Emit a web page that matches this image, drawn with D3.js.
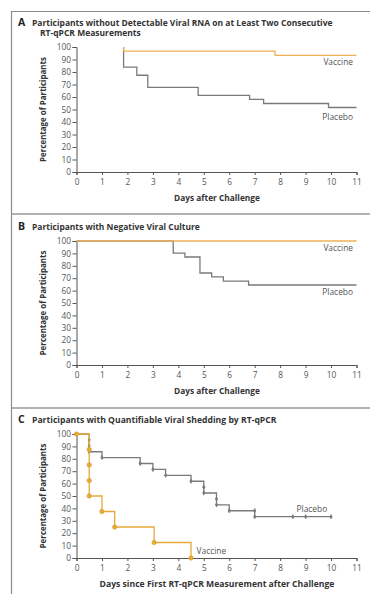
<!DOCTYPE html>
<html>
<head>
<meta charset="utf-8">
<script src="https://cdn.jsdelivr.net/npm/d3@7/dist/d3.min.js"></script>
<style>
body { margin: 0; background: #fff; }
svg { display: block; font-family: "Open Sans", "Noto Sans", sans-serif; }
</style>
</head>
<body>
<div id="chart"></div>
<script>
// ---- data ----
const dayTicks = [0, 1, 2, 3, 4, 5, 6, 7, 8, 9, 10, 11];
const pctTicks = [0, 10, 20, 30, 40, 50, 60, 70, 80, 90, 100];

// panel A: no detectable viral RNA on two consecutive RT-qPCR
const vaccineA = [[1.85, 100], [1.85, 96.7], [7.8, 93.3], [11, 93.3]];
const placeboA = [[1.85, 100], [1.85, 83.9], [2.37, 77.4], [2.8, 67.7], [4.78, 61.3],
                  [6.8, 58.1], [7.35, 54.8], [9.9, 51.6], [11, 51.6]];

// panel B: negative viral culture
const vaccineB = [[0, 100], [11, 100]];
const placeboB = [[0, 100], [3.8, 100], [3.8, 90.3], [4.26, 87.1], [4.85, 74.2],
                  [5.31, 71.0], [5.77, 67.7], [6.76, 64.5], [11, 64.5]];

// panel C: quantifiable viral shedding
const vaccineC = [[0, 100], [0.5, 50], [1.0, 37.5], [1.5, 25], [3.05, 12.5], [4.5, 0]];
const vaccineCMarks = [[0, 100], [0.5, 87.5], [0.5, 75], [0.5, 62.5], [0.5, 50],
                       [1.0, 37.5], [1.5, 25], [3.05, 12.5], [4.5, 0]];
const placeboC = [[0, 100], [0.5, 85.7], [1.0, 81.0], [2.5, 76.2], [3.0, 71.4], [3.5, 66.7],
                  [4.5, 61.9], [5.0, 52.4], [5.5, 42.9], [6.0, 38.1], [7.0, 33.3], [10.0, 33.3]];
const placeboCMarks = [[0.5, 95.2], [0.5, 90.5], [0.5, 85.7], [1.0, 81.0], [2.5, 76.2],
                       [3.0, 71.4], [3.5, 66.7], [4.5, 61.9], [5.0, 57.1], [5.0, 52.4],
                       [5.5, 47.6], [5.5, 42.9], [6.0, 38.1], [7.0, 38.1], [7.0, 33.3],
                       [8.5, 33.3], [9.0, 33.3], [10.0, 33.3]];

const panelLetters = ["A", "B", "C"];
const panelTitles = [
  ["Participants without Detectable Viral RNA on at Least Two Consecutive", "RT-qPCR Measurements"],
  ["Participants with Negative Viral Culture"],
  ["Participants with Quantifiable Viral Shedding by RT-qPCR"]
];
const xTitles = ["Days after Challenge", "Days after Challenge",
                 "Days since First RT-qPCR Measurement after Challenge"];
const yTitle = "Percentage of Participants";

// ---- drawing ----
const W = 370, H = 594;
const orange = "#EDB256", gray = "#7a7a7a", frame = "#8a8a8a";

const svg = d3.select("#chart").append("svg")
  .attr("width", W).attr("height", H);

// outer frame and separators
svg.append("path")
  .attr("d", "M11.5," + H + "V11.5H" + W)
  .attr("fill", "none").attr("stroke", frame).attr("stroke-width", 1.2);
[214, 408].forEach(yy => {
  svg.append("line").attr("x1", 11).attr("x2", W).attr("y1", yy).attr("y2", yy)
    .attr("stroke", "#999").attr("stroke-width", 1.5);
});

// scale a text's font so its natural width hits the target width
function fitFont(sel, width) {
  const base = +sel.attr("font-size");
  const w = sel.node().getComputedTextLength();
  const size = base * width / w;
  sel.attr("font-size", size);
  return size;
}

// layout per panel (pixel frame of each plot)
const layout = [
  {titleY: 25.5, top: 47, bottom: 172, xTitleY: 200.5, xTitleW: 86, titleW: 301},
  {titleY: 229.5, top: 241, bottom: 365, xTitleY: 394, xTitleW: 86, titleW: 168},
  {titleY: 423, top: 434, bottom: 558, xTitleY: 587, xTitleW: 235, titleW: 245}
];

const x = d3.scaleLinear().domain([0, 11]).range([76.5, 356.5]);

function drawPanel(i, series, labels) {
  const L = layout[i];
  const y = d3.scaleLinear().domain([0, 100]).range([L.bottom, L.top]);
  const g = svg.append("g");

  // title
  g.append("text").attr("x", 18).attr("y", L.titleY)
    .attr("font-size", 10.5).attr("font-weight", 700).attr("fill", "#222")
    .text(panelLetters[i]);
  let size = 9;
  panelTitles[i].forEach((t, k) => {
    const tt = g.append("text").attr("x", k === 0 ? 32 : 40).attr("y", L.titleY + k * 10.5)
      .attr("font-size", size).attr("font-weight", 700).attr("fill", "#333")
      .text(t);
    if (k === 0) size = fitFont(tt, L.titleW);
  });

  // axes
  const yAxis = g.append("g").attr("transform", "translate(" + x.range()[0] + ",0)")
    .call(d3.axisLeft(y).tickValues(pctTicks).tickSize(4).tickPadding(1.5));
  const xAxis = g.append("g").attr("transform", "translate(0," + L.bottom + ")")
    .call(d3.axisBottom(x).tickValues(dayTicks).tickSize(3).tickPadding(4));
  [yAxis, xAxis].forEach(a => {
    a.select(".domain").attr("stroke", "#555").attr("stroke-width", 1);
    a.selectAll(".tick line").attr("stroke", "#555");
    a.selectAll(".tick text").attr("font-size", 8.3).attr("fill", "#555")
      .attr("font-family", "'Open Sans', sans-serif");
  });

  // axis titles
  const xt = g.append("text").attr("x", 217).attr("y", L.xTitleY)
    .attr("text-anchor", "middle").attr("font-size", 9).attr("font-weight", 700)
    .attr("fill", "#333").text(xTitles[i]);
  fitFont(xt, L.xTitleW);
  const yt = g.append("text")
    .attr("transform", "translate(45.5," + (L.top + L.bottom) / 2 + ") rotate(-90)")
    .attr("text-anchor", "middle").attr("font-size", 9).attr("font-weight", 700)
    .attr("fill", "#333").text(yTitle);
  fitFont(yt, 105);

  const line = d3.line().x(d => x(d[0])).y(d => y(d[1])).curve(d3.curveStepAfter);

  series.forEach(s => {
    g.append("path").datum(s.data)
      .attr("fill", "none").attr("stroke", s.color).attr("stroke-width", 1.3)
      .attr("d", line);
    if (s.marks && s.kind === "tick") {
      g.selectAll(null).data(s.marks).enter().append("line")
        .attr("x1", d => x(d[0])).attr("x2", d => x(d[0]))
        .attr("y1", d => y(d[1]) - 2.2).attr("y2", d => y(d[1]) + 2.2)
        .attr("stroke", s.color).attr("stroke-width", 1.2);
      g.selectAll(null).data(s.marks).enter().append("circle")
        .attr("cx", d => x(d[0])).attr("cy", d => y(d[1])).attr("r", 1.4)
        .attr("fill", s.color);
    }
    if (s.marks && s.kind === "dot") {
      g.selectAll(null).data(s.marks).enter().append("circle")
        .attr("cx", d => x(d[0])).attr("cy", d => y(d[1])).attr("r", 2.2)
        .attr("fill", s.color).attr("stroke", "#d99a2b").attr("stroke-width", 0.6);
    }
  });

  labels.forEach(l => {
    g.append("text").attr("x", l.x).attr("y", l.y).attr("text-anchor", l.anchor)
      .attr("font-size", 8.4).attr("fill", "#555").text(l.text);
  });
}

drawPanel(0, [
  {data: placeboA, color: gray},
  {data: vaccineA, color: orange}
], [
  {text: "Vaccine", x: 353, y: 64.5, anchor: "end"},
  {text: "Placebo", x: 353, y: 119.5, anchor: "end"}
]);

drawPanel(1, [
  {data: placeboB, color: gray},
  {data: vaccineB, color: orange}
], [
  {text: "Vaccine", x: 353, y: 250.5, anchor: "end"},
  {text: "Placebo", x: 353, y: 295, anchor: "end"}
]);

drawPanel(2, [
  {data: placeboC, color: gray, marks: placeboCMarks, kind: "tick"},
  {data: vaccineC, color: "#E8A93A", marks: vaccineCMarks, kind: "dot"}
], [
  {text: "Placebo", x: 296.5, y: 512, anchor: "start"},
  {text: "Vaccine", x: 196.5, y: 554, anchor: "start"}
]);
</script>
</body>
</html>
